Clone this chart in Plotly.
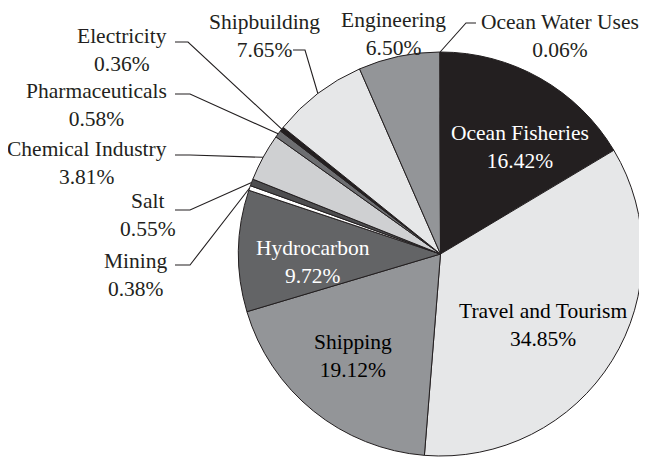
import math
import plotly.graph_objects as go

# ---- data ----
categories = ["Ocean Fisheries", "Travel and Tourism", "Shipping", "Hydrocarbon",
              "Mining", "Salt", "Chemical Industry", "Pharmaceuticals",
              "Electricity", "Shipbuilding", "Engineering", "Ocean Water Uses"]
shares = [16.42, 34.85, 19.12, 9.72, 0.38, 0.55, 3.81, 0.58, 0.36, 7.65, 6.50, 0.06]
slice_colors = ["#231f20", "#e6e7e8", "#939598", "#636466", "#ffffff", "#4d4d4f",
                "#cfd0d2", "#6d6e71", "#231f20", "#e6e7e8", "#939598", "#ffffff"]

# ---- layout constants (pixels, as seen in the page) ----
OFF = 8  # page body margin
W, H = 647 - OFF, 460 - OFF
CX, CY, R = 440.5, 254.0, 202.0
FONT = "Liberation Serif, Times New Roman, serif"
FS = 21.5
INK = "#231f20"


def px(x):
    return (x - OFF) / W


def py(y):
    return 1 - (y - OFF) / H


fig = go.Figure(go.Pie(
    labels=categories,
    values=shares,
    sort=False,
    direction="clockwise",
    rotation=0,
    textinfo="none",
    marker=dict(colors=slice_colors, line=dict(color=INK, width=1)),
    domain=dict(x=[px(CX - R), px(CX + R)], y=[py(CY + R), py(CY - R)]),
    showlegend=False,
    hoverinfo="label+percent",
))

total = sum(shares)
cum = []
acc = 0.0
for v in shares:
    cum.append(acc + v / 2)
    acc += v


def edge_point(i, rr=R):
    th = 2 * math.pi * cum[i] / total
    return CX + rr * math.sin(th), CY - rr * math.cos(th)


# label placement: (center x, center y, text colour)
inside = {
    "Ocean Fisheries": (520, 147, "white"),
    "Travel and Tourism": (543, 325, "black"),
    "Shipping": (353, 356, "black"),
    "Hydrocarbon": (313, 262, "white"),
}
outside = {
    "Electricity": (122, 50, [(175, 42), (188, 42)]),
    "Pharmaceuticals": (96, 105, [(175, 94), (190, 94)]),
    "Chemical Industry": (87, 163, [(175, 155), (190, 155)]),
    "Salt": (148, 215, [(175, 210), (190, 210)]),
    "Mining": (136, 275, [(175, 265), (190, 265)]),
    "Shipbuilding": (264, 36, [(293, 50), (305, 50)]),
    "Engineering": (393, 34, None),
    "Ocean Water Uses": (560, 36, [(476, 23), (466, 23)]),
}

annotations = []
shapes = []
for i, (name, val) in enumerate(zip(categories, shares)):
    text = f"{name}<br>{val:.2f}%"
    if name in inside:
        x, y, col = inside[name]
    else:
        x, y, pts = outside[name]
        col = INK
        if pts is not None:
            ex, ey = edge_point(i)
            allpts = pts + [(ex, ey)]
            path = "M " + " L ".join(f"{px(a):.5f},{py(b):.5f}" for a, b in allpts)
            shapes.append(dict(type="path", xref="paper", yref="paper", path=path,
                               line=dict(color=INK, width=1.1)))
    annotations.append(dict(x=px(x), y=py(y), xref="paper", yref="paper",
                            text=text, showarrow=False, align="center",
                            xanchor="center", yanchor="middle",
                            font=dict(family=FONT, size=FS, color=col)))

fig.update_layout(
    width=W, height=H,
    margin=dict(l=0, r=0, t=0, b=0),
    paper_bgcolor="white",
    plot_bgcolor="white",
    annotations=annotations,
    shapes=shapes,
)

fig.write_html("out.html")
